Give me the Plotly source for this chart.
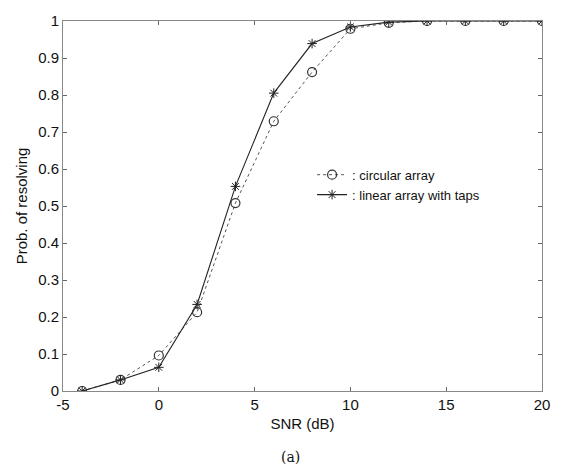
import plotly.graph_objects as go

snr = [-4, -2, 0, 2, 4, 6, 8, 10, 12, 14, 16, 18, 20]
circular = [0.0, 0.03, 0.096, 0.213, 0.508, 0.729, 0.862, 0.979, 0.995, 1.0, 1.0, 1.0, 1.0]
linear_taps = [0.0, 0.03, 0.064, 0.234, 0.553, 0.805, 0.939, 0.984, 0.997, 1.0, 1.0, 1.0, 1.0]
xticks = [-5, 0, 5, 10, 15, 20]
yticks = [0, 0.1, 0.2, 0.3, 0.4, 0.5, 0.6, 0.7, 0.8, 0.9, 1]

fig = go.Figure()
fig.add_trace(go.Scatter(
    x=snr, y=circular, mode="lines+markers", name=": circular array",
    line=dict(color="#555", width=1, dash="dot"),
    marker=dict(symbol="circle-open", size=9, color="#333", line=dict(width=1.2)),
))
fig.add_trace(go.Scatter(
    x=snr, y=linear_taps, mode="lines+markers", name=": linear array with taps",
    line=dict(color="#222", width=1.1),
    marker=dict(symbol="asterisk-open", size=8, color="#222", line=dict(width=1)),
))

axis_common = dict(
    showgrid=False, zeroline=False, showline=True, linecolor="#888", linewidth=1,
    mirror="ticks", ticks="inside", ticklen=4, tickcolor="#666",
    tickfont=dict(family="Liberation Sans, Arial", size=15, color="#111"),
)
fig.update_xaxes(range=[-5, 20], tickvals=xticks, ticktext=[str(v) for v in xticks],
                 title=dict(text="SNR (dB)", font=dict(family="Liberation Sans, Arial", size=15, color="#111"), standoff=6),
                 **axis_common)
fig.update_yaxes(range=[0, 1], tickvals=yticks, ticktext=["0", "0.1", "0.2", "0.3", "0.4", "0.5", "0.6", "0.7", "0.8", "0.9", "1"],
                 title=dict(text="Prob. of resolving", font=dict(family="Liberation Sans, Arial", size=15, color="#111"), standoff=6),
                 **axis_common)

fig.add_annotation(text="(a)", xref="paper", yref="paper", x=0.475, y=-0.178, showarrow=False,
                   xanchor="center", yanchor="middle",
                   font=dict(family="DejaVu Serif, Liberation Serif", size=14, color="#111"))

fig.update_layout(
    width=567, height=475,
    margin=dict(l=63, r=25, t=15, b=84),
    paper_bgcolor="white", plot_bgcolor="white",
    showlegend=True,
    legend=dict(x=0.52, y=0.625, xanchor="left", yanchor="top", bgcolor="rgba(0,0,0,0)",
                font=dict(family="Liberation Sans, Arial", size=13, color="#111"),
                itemwidth=30, tracegroupgap=0),
)
fig.write_html("out.html")
